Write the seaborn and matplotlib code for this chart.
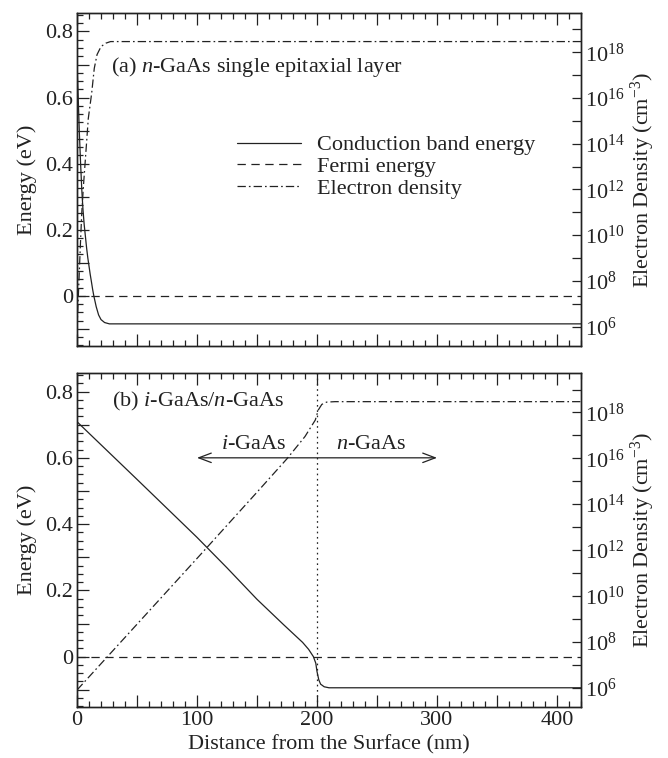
import numpy as np
import matplotlib
matplotlib.use("Agg")
import matplotlib.pyplot as plt
import seaborn as sns
from matplotlib.lines import Line2D
from matplotlib.ticker import MultipleLocator, FuncFormatter, FixedLocator, NullLocator

sns.set_style("ticks")
plt.rcParams['font.family'] = ['Liberation Serif', 'DejaVu Serif']
plt.rcParams['mathtext.fontset'] = 'custom'
plt.rcParams['mathtext.rm'] = 'Liberation Serif'
plt.rcParams['mathtext.it'] = 'Liberation Serif:italic'
plt.rcParams['lines.scale_dashes'] = False

INK = "#222222"
FS = 16

# ------------------------------
# Data
# ------------------------------

# (a) n-GaAs single epitaxial layer
dist_cb_a = [0, 1, 2, 3, 4, 5, 6, 7, 8, 9, 10, 11, 12, 13, 14, 16, 18, 20, 23, 27, 420]
cb_a = [0.71, 0.60, 0.49, 0.40, 0.32, 0.26, 0.215, 0.18, 0.145, 0.115, 0.09, 0.065,
        0.043, 0.02, 0.0, -0.033, -0.058, -0.072, -0.081, -0.085, -0.085]
dist_n_a = [0, 1, 2, 3, 4, 5.3, 7.5, 9.4, 12.2, 14.4, 16.7, 20, 24, 28, 420]
log_n_a = [5.9, 7.2, 8.5, 9.8, 11.0, 12.1, 13.7, 15.1, 16.2, 17.3, 17.9, 18.25, 18.4, 18.47, 18.47]

# (b) i-GaAs/n-GaAs
dist_cb_b = [0, 50, 100, 125, 150, 172, 188, 193, 197, 199, 200, 201.5, 203, 206, 210, 420]
cb_b = [0.709, 0.535, 0.36, 0.268, 0.173, 0.097, 0.043, 0.022, 0.0, -0.02, -0.045,
        -0.07, -0.083, -0.091, -0.094, -0.094]
dist_n_b = [0, 50, 100, 150, 175, 190, 198.6, 201, 204, 208, 215, 420]
log_n_b = [5.89, 8.76, 11.63, 14.52, 15.98, 16.95, 17.67, 18.1, 18.35, 18.45, 18.47, 18.47]

fermi_x = [0, 420]
fermi_e = [0.0, 0.0]

interface_nm = 200

legend_labels = ["Conduction band energy", "Fermi energy", "Electron density"]

LS_CB = "-"
LS_FERMI = (0, (6, 4))
LS_DENS = (0, (6, 2.2, 1.2, 2.2))


# ------------------------------
# Figure
# ------------------------------

def energy_fmt(v, pos):
    q = v / 0.2
    if abs(q - round(q)) < 1e-6:
        return "0" if abs(v) < 1e-9 else f"{v:.1f}"
    return ""


def dist_fmt(v, pos):
    q = v / 100
    if abs(q - round(q)) < 1e-6:
        return f"{int(round(v))}"
    return ""


def dens_fmt(v, pos):
    e = int(round(np.log10(v)))
    return r"$10^{%d}$" % e if e % 2 == 0 else ""


def draw_panel(ax, x_cb, cb, x_n, log_n, show_xlabels):
    sns.lineplot(x=x_cb, y=cb, ax=ax, color=INK, linewidth=0.9, linestyle=LS_CB,
                 sort=False, estimator=None)
    sns.lineplot(x=fermi_x, y=fermi_e, ax=ax, color=INK, linewidth=0.9, linestyle=LS_FERMI,
                 sort=False, estimator=None)
    ax.set_xlim(0, 420)
    ax.set_ylim(-0.152, 0.856)

    ax.xaxis.set_major_locator(MultipleLocator(50))
    ax.xaxis.set_minor_locator(MultipleLocator(10))
    ax.yaxis.set_major_locator(MultipleLocator(0.1))
    ax.yaxis.set_minor_locator(MultipleLocator(0.025))
    ax.yaxis.set_major_formatter(FuncFormatter(energy_fmt))
    if show_xlabels:
        ax.xaxis.set_major_formatter(FuncFormatter(dist_fmt))
    else:
        ax.xaxis.set_major_formatter(FuncFormatter(lambda v, p: ""))
    ax.tick_params(which="both", direction="in", top=True, right=False,
                   colors=INK, labelsize=FS, width=0.9)
    ax.tick_params(which="major", length=8.5, pad=3)
    ax.tick_params(which="minor", length=4.3)
    for s in ax.spines.values():
        s.set_color(INK)
        s.set_linewidth(1.0)
    ax.set_xlabel("")
    ax.set_ylabel("")

    ax2 = ax.twinx()
    sns.lineplot(x=x_n, y=10.0 ** np.array(log_n), ax=ax2, color=INK, linewidth=0.9,
                 linestyle=LS_DENS, sort=False, estimator=None)
    ax2.set_yscale("log")
    ax2.set_ylim(10 ** 5.15, 10 ** 19.72)
    ax2.yaxis.set_major_locator(FixedLocator(10.0 ** np.arange(6, 20)))
    ax2.yaxis.set_minor_locator(NullLocator())
    ax2.yaxis.set_major_formatter(FuncFormatter(dens_fmt))
    ax2.tick_params(axis="y", which="major", direction="in", length=6.5, width=0.9,
                    colors=INK, labelsize=FS, pad=3)
    for s in ax2.spines.values():
        s.set_color(INK)
        s.set_linewidth(1.0)
    ax2.set_ylabel("")
    return ax2


fig = plt.figure(figsize=(6.68, 7.58), dpi=100)
W, H = 668.0, 758.0
left, right = 77, 581
ax_a = fig.add_axes([left / W, 1 - 346 / H, (right - left) / W, (346 - 13) / H])
ax_b = fig.add_axes([left / W, 1 - 707 / H, (right - left) / W, (707 - 373) / H])

ax2_a = draw_panel(ax_a, dist_cb_a, cb_a, dist_n_a, log_n_a, False)
ax2_b = draw_panel(ax_b, dist_cb_b, cb_b, dist_n_b, log_n_b, True)

# panel annotations
ax_a.text(28, 0.694, r"(a) $n$-GaAs single epitaxial layer", fontsize=FS, color=INK,
          ha="left", va="center")
ax_b.text(29, 0.77, r"(b) $i$-GaAs/$n$-GaAs", fontsize=FS, color=INK,
          ha="left", va="center")

ax_b.axvline(interface_nm, color=INK, linewidth=0.9, linestyle=(0, (1.2, 2.6)))
ax_b.annotate("", xy=(100, 0.6), xytext=(300, 0.6),
              arrowprops=dict(arrowstyle="<->,head_length=0.45,head_width=0.17",
                              color=INK, lw=0.9, mutation_scale=20,
                              shrinkA=0, shrinkB=0))
ax_b.text(147, 0.64, r"$i$-GaAs", fontsize=FS, color=INK, ha="center", va="center")
ax_b.text(245, 0.64, r"$n$-GaAs", fontsize=FS, color=INK, ha="center", va="center")

# legend in panel (a)
handles = [Line2D([], [], color=INK, lw=0.9, linestyle=LS_CB),
           Line2D([], [], color=INK, lw=0.9, linestyle=LS_FERMI),
           Line2D([], [], color=INK, lw=0.9, linestyle=LS_DENS)]
ax2_a.legend(handles, legend_labels, loc="upper left", bbox_to_anchor=(0.317, 0.634),
             frameon=False, fontsize=FS, borderpad=0, borderaxespad=0,
             handlelength=2.9, handletextpad=0.7, labelspacing=0.05,
             labelcolor=INK)

# axis titles
for yc in (179.5, 540):
    fig.text(27 / W, 1 - yc / H, "Energy (eV)", rotation=90, fontsize=FS, color=INK,
             ha="center", va="center")
    fig.text(643 / W, 1 - yc / H, r"Electron Density (cm$^{-3}$)", rotation=90,
             fontsize=FS, color=INK, ha="center", va="center")
fig.text(329 / W, 1 - 745 / H, "Distance from the Surface (nm)", fontsize=FS, color=INK,
         ha="center", va="center")

fig.savefig("out.png", dpi=100)
